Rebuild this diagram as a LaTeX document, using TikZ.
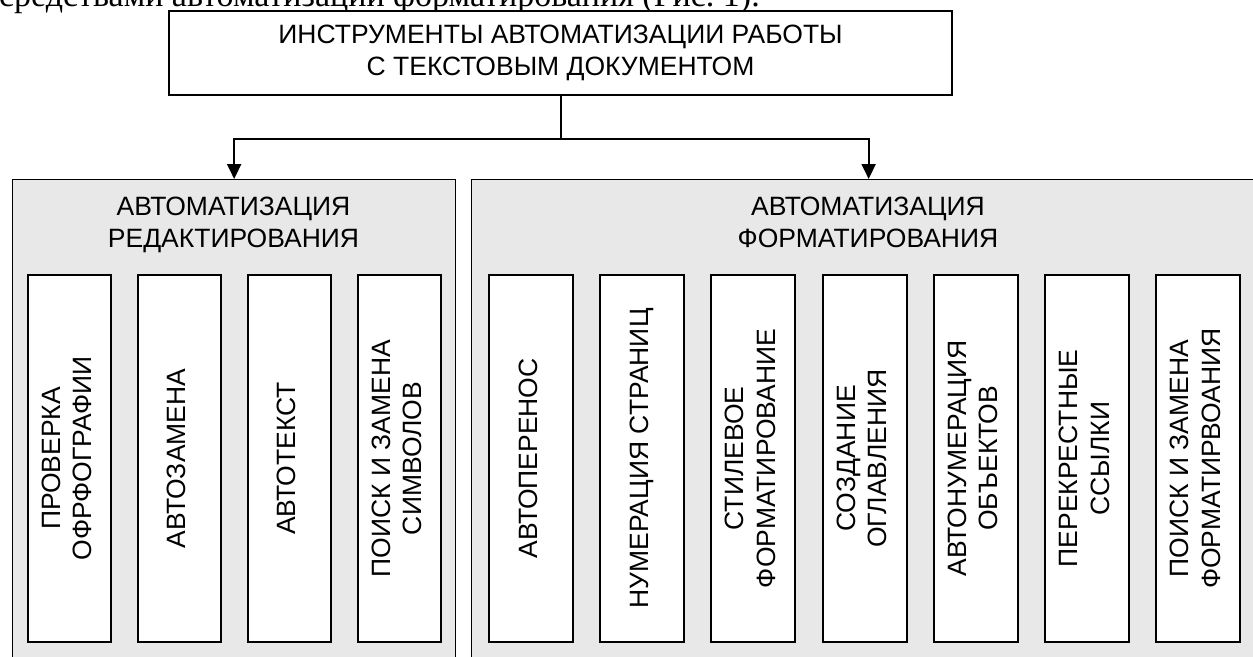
\documentclass[tikz,border=0pt]{standalone}
\usepackage{fontspec}
\setmainfont{Liberation Sans}
\newfontfamily\bodyserif{Liberation Serif}
\usetikzlibrary{arrows.meta,positioning}

\definecolor{groupgray}{RGB}{232,232,232}
\newcommand{\diagfont}{\fontsize{26.5pt}{31.5pt}\selectfont}
\newcommand{\vlabel}[1]{\rotatebox{90}{\begin{tabular}{@{}c@{}}#1\end{tabular}}}

\tikzset{
    toolbox/.style={rectangle, draw, line width=2pt, fill=white, inner sep=0pt,
        minimum width=783pt, minimum height=84pt, align=center, font=\diagfont},
    groupbox/.style={rectangle, draw, line width=1.3pt, fill=groupgray, inner sep=0pt,
        anchor=north west, minimum height=520pt},
    grouptitle/.style={inner sep=0pt, anchor=north, align=center, font=\diagfont},
    itembox/.style={rectangle, draw, line width=2pt, fill=white, inner sep=0pt,
        minimum height=367pt, font=\diagfont},
    edititem/.style={itembox, minimum width=83pt},
    fmtitem/.style={itembox, minimum width=84pt},
    link/.style={line width=2pt},
    linkarrow/.style={line width=2pt, -{Triangle[width=14pt,length=15pt]}}
}

\begin{document}
\begin{tikzpicture}[x=1pt, y=-1pt]
    \useasboundingbox (0,0) rectangle (1253,656);
    \clip (0,0) rectangle (1253,656);

        %-----Text line above-----
        \node [anchor=base east, inner sep=0pt,
               font=\bodyserif\fontsize{34pt}{40pt}\selectfont] (caption) at (760,6)
            {средствами автоматизации форматирования (Рис.~1).};

        %-----Top-----
        % Tools box
        \node [toolbox] (tools) at (560.5,53) {%
            ИНСТРУМЕНТЫ АВТОМАТИЗАЦИИ РАБОТЫ \\
            С ТЕКСТОВЫМ ДОКУМЕНТОМ
        };

        %-----Groups-----
        % Editing group
        \node [groupbox, minimum width=443pt] (edgroup) at (12,179) {};
        \node [grouptitle] (edtitle) at (233.5,197) {%
            АВТОМАТИЗАЦИЯ \\
            РЕДАКТИРОВАНИЯ
        };

        % Formatting group
        \node [groupbox, minimum width=794pt] (fmtgroup) at (471,179) {};
        \node [grouptitle] (fmttitle) at (868,197) {%
            АВТОМАТИЗАЦИЯ \\
            ФОРМАТИРОВАНИЯ
        };

        %-----Connectors-----
        \coordinate (hub) at ([yshift=-42.7pt]tools.south);
        \draw [link] (tools.south) -- (hub);
        \draw [linkarrow] (hub) -| (edgroup.north);
        \draw [linkarrow] (hub) -| (fmtgroup.north);

        %-----Editing tools-----
        % Spelling
        \node [edititem, anchor=west] (spell) at (27,458.5) {\vlabel{ПРОВЕРКА \\ ОФРФОГРАФИИ}};

        % Autocorrect
        \node [edititem, right=25pt of spell] (autocorr) {\vlabel{АВТОЗАМЕНА}};

        % Autotext
        \node [edititem, right=25pt of autocorr] (autotext) {\vlabel{АВТОТЕКСТ}};

        % Find and replace symbols
        \node [edititem, right=25pt of autotext] (findsym) {\vlabel{ПОИСК И ЗАМЕНА \\ СИМВОЛОВ}};

        %-----Formatting tools-----
        % Hyphenation
        \node [fmtitem, anchor=west] (hyphen) at (488,458.5) {\vlabel{АВТОПЕРЕНОС}};

        % Page numbering
        \node [fmtitem, right=25.2pt of hyphen] (pagenum) {\vlabel{НУМЕРАЦИЯ СТРАНИЦ}};

        % Styles
        \node [fmtitem, right=25.2pt of pagenum] (styles) {\vlabel{СТИЛЕВОЕ \\ ФОРМАТИРОВАНИЕ}};

        % Table of contents
        \node [fmtitem, right=25.2pt of styles] (contents) {\vlabel{СОЗДАНИЕ \\ ОГЛАВЛЕНИЯ}};

        % Object numbering
        \node [fmtitem, right=25.2pt of contents] (objnum) {\vlabel{АВТОНУМЕРАЦИЯ \\ ОБЪЕКТОВ}};

        % Cross references
        \node [fmtitem, right=25.2pt of objnum] (crossref) {\vlabel{ПЕРЕКРЕСТНЫЕ \\ ССЫЛКИ}};

        % Find and replace formatting
        \node [fmtitem, right=25.2pt of crossref] (findfmt) {\vlabel{ПОИСК И ЗАМЕНА \\ ФОРМАТИРВОАНИЯ}};

\end{tikzpicture}
\end{document}
